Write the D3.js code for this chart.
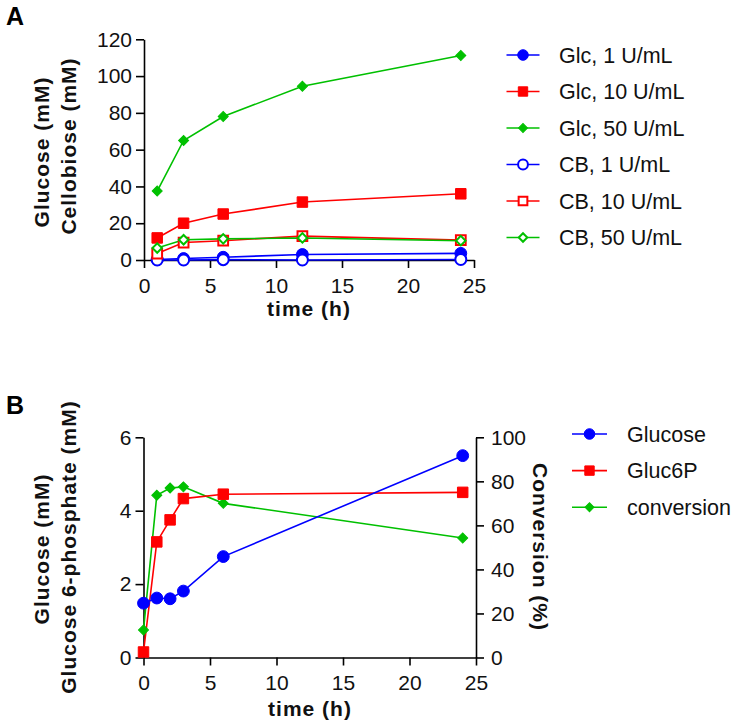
<!DOCTYPE html>
<html><head><meta charset="utf-8">
<script src="https://cdn.jsdelivr.net/npm/d3@7"></script>
<style>
body{margin:0;background:#fff;}
svg{font-family:"Liberation Sans",Arial,sans-serif;}
</style></head>
<body><svg id="c" width="739" height="727"></svg>
<script>
// ---------- Data: panel A ----------
const timesA = [1, 3, 6, 12, 24];
const glc1  = [0.3, 0.8, 1.5, 3.0, 3.6];
const glc10 = [12, 20, 25, 31.5, 36];
const glc50 = [37.5, 65, 78, 94.5, 111.2];
const cb1   = [0, 0, 0.2, 0, 0.3];
const cb10  = [3.5, 9.5, 10.5, 13, 10.8];
const cb50  = [6.5, 11, 11.5, 12, 10.5];
const labelsA = ["Glc, 1 U/mL","Glc, 10 U/mL","Glc, 50 U/mL","CB, 1 U/mL","CB, 10 U/mL","CB, 50 U/mL"];
const ticksAx = [0,5,10,15,20,25];
const ticksAy = [0,20,40,60,80,100,120];

// ---------- Data: panel B ----------
const timesB = [0, 1, 2, 3, 6, 24];
const glucoseB = [1.48, 1.62, 1.6, 1.81, 2.75, 5.5];
const gluc6pB  = [0.15, 3.15, 3.75, 4.33, 4.45, 4.5];
const conversionB = [12.5, 73.7, 77, 77.5, 70, 54.3];
const labelsB = ["Glucose","Gluc6P","conversion"];
const ticksBx = [0,5,10,15,20,25];
const ticksByL = [0,2,4,6];
const ticksByR = [0,20,40,60,80,100];

const BLUE="#0000ff", RED="#ff0000", GREEN="#00c000";
const svg = d3.select("#c");
const fmt = d3.format("d");

function drawMarker(g, x, y, color, shape, open, size){
  const type = shape==="circle" ? d3.symbolCircle : d3.symbolSquare;
  const rot = shape==="diamond" ? 45 : 0;
  g.append("path")
    .attr("d", d3.symbol().type(type).size(size)())
    .attr("transform", `translate(${x},${y}) rotate(${rot})`)
    .attr("fill", open ? "#fff" : color)
    .attr("stroke", color)
    .attr("stroke-width", open ? 2 : 1);
}
function styleAxis(g, fs){
  g.selectAll(".domain").attr("stroke","#000").attr("stroke-width",1.6);
  g.selectAll(".tick line").attr("stroke","#000").attr("stroke-width",1.6);
  g.selectAll(".tick text").attr("font-size",fs).attr("fill","#111")
    .attr("font-family","'Liberation Sans',Arial,sans-serif");
}
function title(x,y,txt,rot,anchor){
  svg.append("text").attr("transform",`translate(${x},${y}) rotate(${rot})`)
    .attr("text-anchor",anchor||"middle").attr("font-weight","bold")
    .attr("font-size",21).attr("letter-spacing","1px").attr("fill","#111").text(txt);
}

// ================= Panel A =================
const xA = d3.scaleLinear().domain([0,25]).range([144,474]);
const yA = d3.scaleLinear().domain([0,120]).range([260,39.3]);

const gAx = svg.append("g").attr("transform","translate(0,260)")
  .call(d3.axisBottom(xA).tickValues(ticksAx).tickFormat(fmt).tickSize(8).tickSizeOuter(0).tickPadding(10));
styleAxis(gAx,21);
const gAy = svg.append("g").attr("transform","translate(144,0)")
  .call(d3.axisLeft(yA).tickValues(ticksAy).tickFormat(fmt).tickSize(8).tickSizeOuter(0).tickPadding(4));
styleAxis(gAy,21);

const seriesA = [
  {v:glc1, c:BLUE, s:"circle", o:false, sz:110},
  {v:glc10,c:RED,  s:"square", o:false, sz:110},
  {v:glc50,c:GREEN,s:"diamond",o:false, sz:50},
  {v:cb1,  c:BLUE, s:"circle", o:true,  sz:95},
  {v:cb10, c:RED,  s:"square", o:true,  sz:95},
  {v:cb50, c:GREEN,s:"diamond",o:true,  sz:45},
];
const lineA = d3.line().x((d,i)=>xA(timesA[i])).y(d=>yA(d));
seriesA.forEach(s=>{
  svg.append("path").datum(s.v).attr("d",lineA).attr("fill","none")
    .attr("stroke",s.c).attr("stroke-width",1.6);
});
seriesA.forEach(s=>{
  const g = svg.append("g");
  s.v.forEach((d,i)=>drawMarker(g,xA(timesA[i]),yA(d),s.c,s.s,s.o,s.sz));
});
// legend A
seriesA.forEach((s,i)=>{
  const y = 55 + i*36.5;
  svg.append("line").attr("x1",506.5).attr("x2",539.5).attr("y1",y).attr("y2",y)
    .attr("stroke",s.c).attr("stroke-width",1.6);
  const g = svg.append("g");
  drawMarker(g,523,y,s.c,s.s,s.o,s.sz*0.8);
  svg.append("text").attr("x",559).attr("y",y+7.5).attr("font-size",21.5)
    .attr("fill","#111").text(labelsA[i]);
});
title(309,316,"time (h)",0);
title(49,152,"Glucose (mM)",-90);
title(76,146,"Cellobiose (mM)",-90);
svg.append("text").attr("x",6).attr("y",25).attr("font-size",25).attr("font-weight","bold").text("A");

// ================= Panel B =================
const xB = d3.scaleLinear().domain([0,25]).range([143.5,476]);
const yBL = d3.scaleLinear().domain([0,6]).range([657.5,437.3]);
const yBR = d3.scaleLinear().domain([0,100]).range([657.5,437.3]);

const gBx = svg.append("g").attr("transform","translate(0,657.5)")
  .call(d3.axisBottom(xB).tickValues(ticksBx).tickFormat(fmt).tickSize(8).tickSizeOuter(0).tickPadding(10));
styleAxis(gBx,21);
const gByL = svg.append("g").attr("transform","translate(143.5,0)")
  .call(d3.axisLeft(yBL).tickValues(ticksByL).tickFormat(fmt).tickSize(8).tickSizeOuter(0).tickPadding(4));
styleAxis(gByL,21);
const gByR = svg.append("g").attr("transform","translate(476,0)")
  .call(d3.axisRight(yBR).tickValues(ticksByR).tickFormat(fmt).tickSize(8).tickSizeOuter(0).tickPadding(7));
styleAxis(gByR,21);

const seriesB = [
  {v:conversionB, sc:yBR, c:GREEN, s:"diamond", sz:50},
  {v:gluc6pB,     sc:yBL, c:RED,   s:"square",  sz:110},
  {v:glucoseB,    sc:yBL, c:BLUE,  s:"circle",  sz:110},
];
seriesB.forEach(s=>{
  const ln = d3.line().x((d,i)=>xB(timesB[i])).y(d=>s.sc(d));
  svg.append("path").datum(s.v).attr("d",ln).attr("fill","none")
    .attr("stroke",s.c).attr("stroke-width",1.6);
});
seriesB.forEach(s=>{
  const g = svg.append("g");
  s.v.forEach((d,i)=>drawMarker(g,xB(timesB[i]),s.sc(d),s.c,s.s,false,s.sz));
});
// legend B
const legB = [seriesB[2], seriesB[1], seriesB[0]];
legB.forEach((s,i)=>{
  const y = 434 + i*36.6;
  svg.append("line").attr("x1",572).attr("x2",607).attr("y1",y).attr("y2",y)
    .attr("stroke",s.c).attr("stroke-width",1.6);
  const g = svg.append("g");
  drawMarker(g,589.5,y,s.c,s.s,false,s.sz*0.8);
  svg.append("text").attr("x",627).attr("y",y+7.5).attr("font-size",21.5)
    .attr("fill","#111").text(labelsB[i]);
});
title(310,716,"time (h)",0);
title(49,549,"Glucose (mM)",-90);
title(76,547,"Glucose 6-phosphate (mM)",-90);
title(533,547,"Conversion (%)",90);
svg.append("text").attr("x",6).attr("y",414).attr("font-size",25).attr("font-weight","bold").text("B");
</script>
</body></html>
